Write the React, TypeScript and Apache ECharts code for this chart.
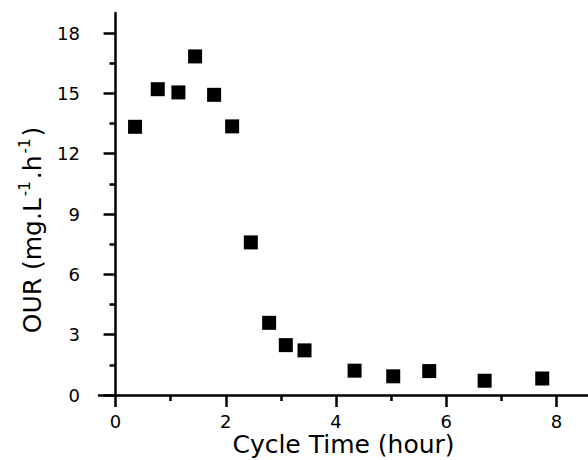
import React, { useEffect, useRef } from "react";
import * as echarts from "echarts";

const cycleTime = [0.354, 0.766, 1.14, 1.443, 1.788, 2.115, 2.454, 2.786, 3.089, 3.428, 4.336, 5.037, 5.69, 6.695, 7.74];
const ourValues = [13.34, 15.21, 15.05, 16.84, 14.93, 13.36, 7.59, 3.59, 2.48, 2.22, 1.21, 0.93, 1.19, 0.71, 0.82];
const xMajorTicks = [0, 2, 4, 6, 8];
const xMinorTicks = [1, 3, 5, 7];
const yMajorTicks = [0, 3, 6, 9, 12, 15, 18];
const yMinorTicks = [1.5, 4.5, 7.5, 10.5, 13.5, 16.5];

const FONT = "DejaVu Sans";

export default function App() {
  const ref = useRef<HTMLDivElement>(null);
  useEffect(() => {
    if (!ref.current) return;
    const chart = echarts.init(ref.current, null, { renderer: "svg" });
    const axisLine = { show: true, lineStyle: { color: "#000", width: 2.5 } };
    const xBase = { type: "value", min: -0.3, max: 8.57, position: "bottom", splitLine: { show: false } };
    const yBase = { type: "value", min: 0, max: 19, position: "left", splitLine: { show: false } };
    chart.setOption({
      animation: false,
      backgroundColor: "#fff",
      grid: { left: 99, right: 0, top: 13, bottom: 65, outerBoundsMode: "none", containLabel: false },
      xAxis: [
        {
          ...xBase,
          name: "Cycle Time (hour)",
          nameLocation: "middle",
          nameGap: 37,
          nameMoveOverlap: false,
          nameTextStyle: { fontFamily: FONT, fontSize: 25, lineHeight: 24, color: "#000" },
          axisLine,
          axisTick: { show: true, customValues: xMajorTicks, length: 12, lineStyle: { color: "#000", width: 2.5 } },
          axisLabel: { show: true, customValues: xMajorTicks, margin: 17, fontFamily: FONT, fontSize: 18, color: "#000" },
        },
        {
          ...xBase,
          axisLine: { show: false },
          axisTick: { show: true, customValues: xMinorTicks, length: 6, lineStyle: { color: "#000", width: 2.5 } },
          axisLabel: { show: false },
        },
      ],
      yAxis: [
        {
          ...yBase,
          axisLine,
          axisTick: { show: true, customValues: yMajorTicks, length: 12, lineStyle: { color: "#000", width: 2.5 } },
          axisLabel: { show: true, customValues: yMajorTicks, margin: 19, fontFamily: FONT, fontSize: 18, color: "#000" },
        },
        {
          ...yBase,
          axisLine: { show: false },
          axisTick: { show: true, customValues: yMinorTicks, length: 6, lineStyle: { color: "#000", width: 2.5 } },
          axisLabel: { show: false },
        },
      ],
      graphic: [
        {
          type: "text",
          x: 32,
          y: 230,
          rotation: Math.PI / 2,
          style: {
            text: "{a|OUR (mg.L}{s|-1}{a|.h}{s|-1}{a|)}",
            align: "center",
            verticalAlign: "middle",
            fill: "#000",
            rich: {
              a: { fontFamily: FONT, fontSize: 25, lineHeight: 30, fill: "#000", color: "#000" },
              s: { fontFamily: FONT, fontSize: 15, lineHeight: 16, verticalAlign: "top", padding: [0, 2, 0, 2], fill: "#000", color: "#000" },
            },
          },
        },
      ],
      series: [
        {
          type: "scatter",
          xAxisIndex: 0,
          yAxisIndex: 0,
          symbol: "rect",
          symbolSize: 14,
          itemStyle: { color: "#000", opacity: 1 },
          data: cycleTime.map((x, i) => [x, ourValues[i]]),
        },
      ],
    });
    return () => chart.dispose();
  }, []);
  return <div ref={ref} style={{ position: "fixed", left: 0, top: 0, width: 588, height: 460 }} />;
}
